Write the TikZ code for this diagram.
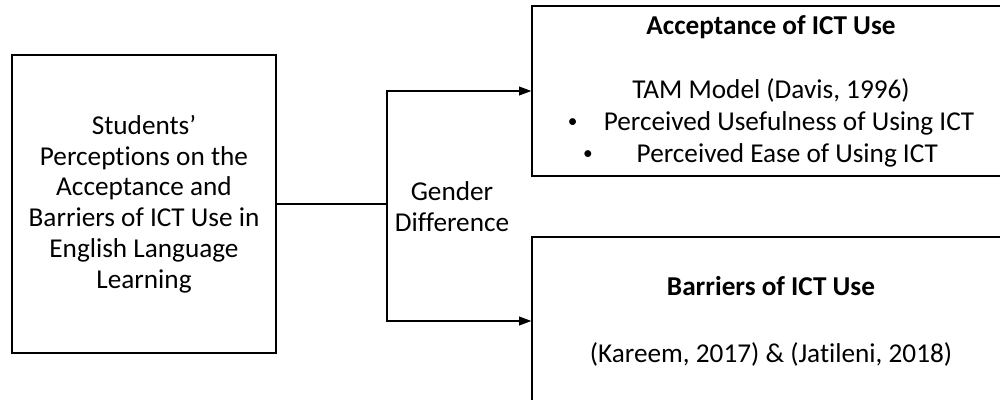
\documentclass[tikz,border=0pt]{standalone}
\usepackage{fontspec}
\setmainfont{Carlito}[Ligatures={TeX,NoCommon}]
\usetikzlibrary{arrows.meta}
\newcommand{\fwbullet}{\raisebox{0.2ex}{\fontsize{11}{11}\selectfont\textbullet}}
\begin{document}
\begin{tikzpicture}[x=0.02cm,y=-0.02cm,line width=0.8pt]
	\tikzstyle{framebox}=[draw=black,align=center,inner sep=0pt,font=\fontsize{15.5}{17.5}\selectfont]
	\tikzstyle{plaintext}=[align=center,inner sep=0pt,font=\fontsize{15.5}{17.5}\selectfont]
	\tikzstyle{link}=[-{Triangle[length=7pt,width=5pt]}]
	\useasboundingbox (0,0) rectangle (1000,399);
	\clip (0,0) rectangle (1000,399);
	\node[framebox,minimum width=5.28cm,minimum height=5.96cm] (fw-students) at (144,204)
		{Students’\\Perceptions on the\\Acceptance and\\Barriers of ICT Use in\\English Language\\Learning};
	\node[framebox,minimum width=9.56cm,minimum height=3.4cm,font=\fontsize{15.5}{18.2}\selectfont] (fw-accept) at (771,91)
		{\textbf{Acceptance of ICT Use}\\[18.2pt]TAM Model (Davis, 1996)\\
		\fwbullet\hspace{15pt}Perceived Usefulness of Using ICT\\
		\fwbullet\hspace{25pt}Perceived Ease of Using ICT\hspace*{12pt}};
	\node[framebox,minimum width=9.56cm,minimum height=3.36cm,font=\fontsize{15.5}{19}\selectfont] (fw-barrier) at (771,321)
		{\textbf{Barriers of ICT Use}\\[19pt](Kareem, 2017) \& (Jatileni, 2018)};
	\node[plaintext] (fw-gender) at (452,207) {Gender\\Difference};
	\coordinate (fw-split) at (387,204);
	\draw (fw-students.east) -- (fw-split);
	\draw[link] (fw-split) |- (fw-accept.west);
	\draw[link] (fw-split) |- (fw-barrier.west);
\end{tikzpicture}
\end{document}
